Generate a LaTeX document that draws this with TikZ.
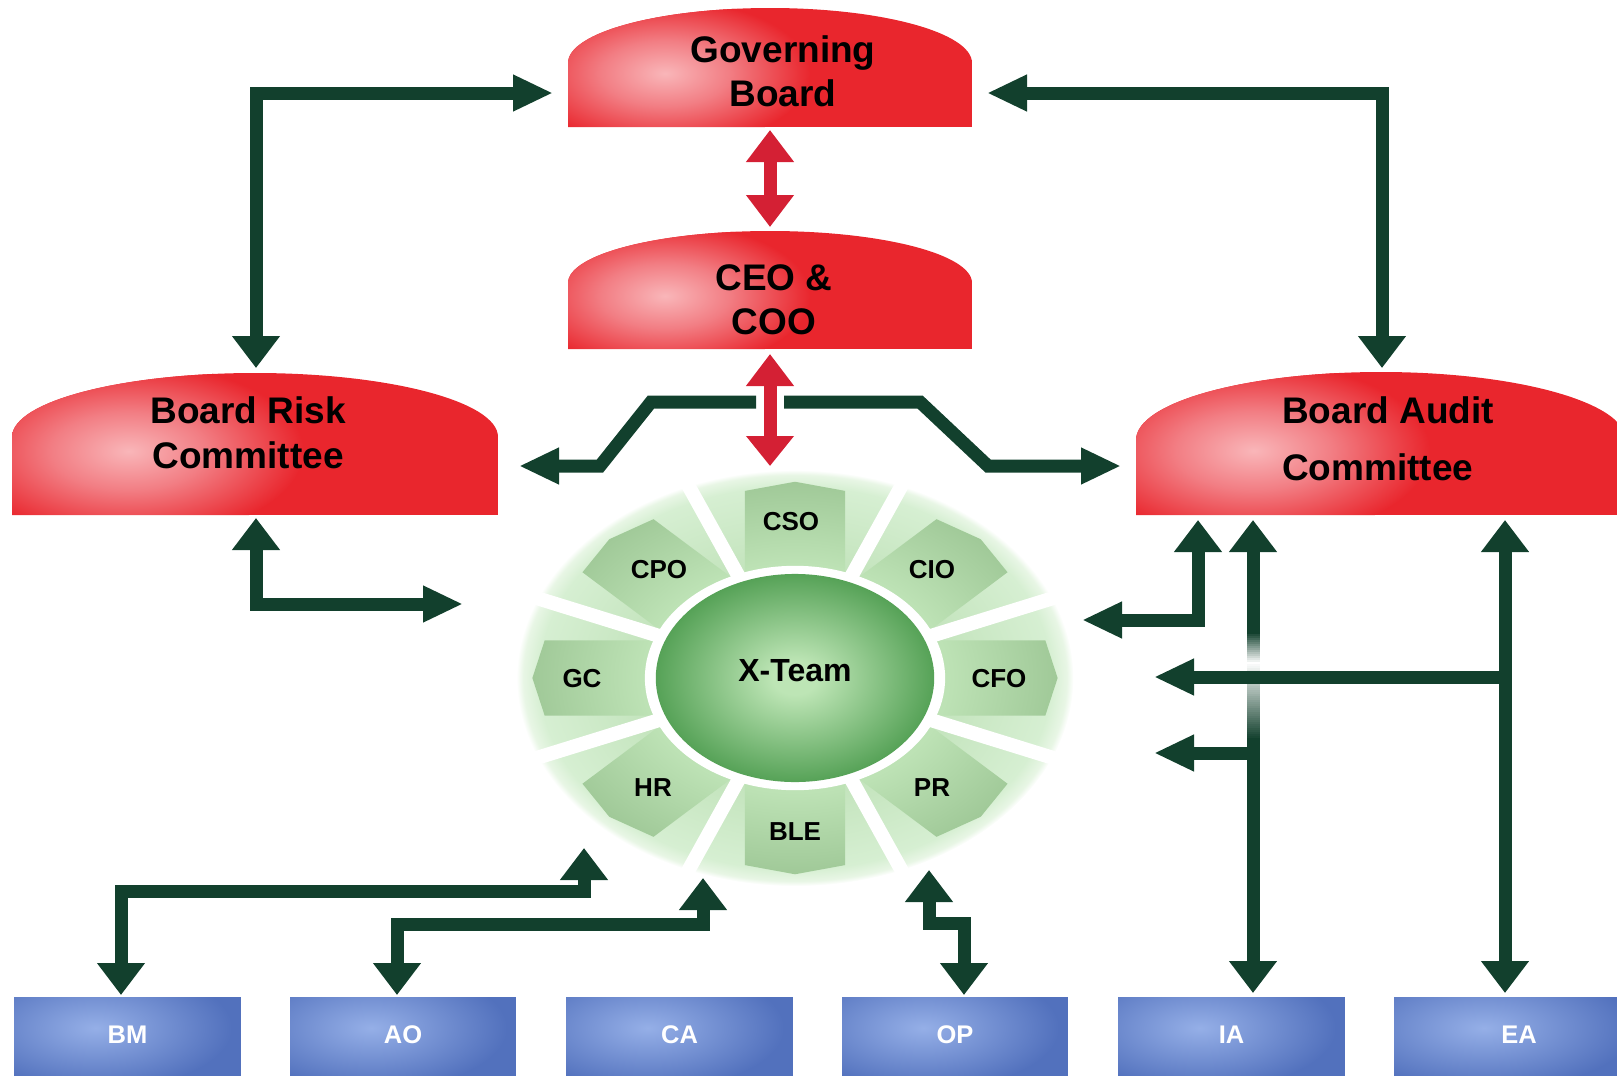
\documentclass[tikz,border=0pt]{standalone}
\usepackage{fontspec}
\setmainfont{Liberation Sans}
\usetikzlibrary{arrows.meta}

% palette
\definecolor{gdark}{HTML}{12402D}
\definecolor{arrowred}{HTML}{D42034}
\definecolor{domered}{HTML}{E9262D}
\definecolor{domemid}{HTML}{F27E84}
\definecolor{domepink}{HTML}{F9B6B9}
\definecolor{boxblue}{HTML}{5271BD}
\definecolor{boxlight}{HTML}{95AFE7}
\definecolor{ringA}{HTML}{C2E3BB}
\definecolor{ringB}{HTML}{D6EFD2}
\definecolor{ringC}{HTML}{E8F6E5}
\definecolor{tablight}{HTML}{BDE2B5}
\definecolor{tabdark}{HTML}{A0C998}
\definecolor{teamlight}{HTML}{BDE5B5}
\definecolor{teamdark}{HTML}{56A257}

\pgfdeclareradialshading{domeglow}{\pgfpoint{0bp}{0bp}}{color(0bp)=(domepink); color(11bp)=(domemid); color(25bp)=(domered); color(50bp)=(domered)}
\pgfdeclareradialshading{boxglow}{\pgfpoint{0bp}{0bp}}{color(0bp)=(boxlight); color(25bp)=(boxblue); color(50bp)=(boxblue)}
\pgfdeclareradialshading{ringglow}{\pgfpoint{0bp}{0bp}}{color(0bp)=(ringA); color(13bp)=(ringA); color(23bp)=(ringB); color(24.4bp)=(ringC); color(25bp)=(white); color(50bp)=(white)}
\pgfdeclareradialshading{tabglow}{\pgfpoint{0bp}{0bp}}{color(0bp)=(tablight); color(14bp)=(tablight); color(24bp)=(tabdark); color(50bp)=(tabdark)}
\pgfdeclareradialshading{teamglow}{\pgfpoint{0bp}{0bp}}{color(0bp)=(teamlight); color(4bp)=(teamlight); color(25bp)=(teamdark); color(50bp)=(teamdark)}

% red dome: left x, right x, top y, shoulder y, bottom y
\newcommand\redcap[5]{%
  \begin{scope}
    \clip (#1,#5) -- (#1,#4)
      .. controls (#1,{#4-0.5523*(#4-#3)}) and ({(#1+#2)/2-0.5523*(#2-#1)/2},#3) .. ({(#1+#2)/2},#3)
      .. controls ({(#1+#2)/2+0.5523*(#2-#1)/2},#3) and (#2,{#4-0.5523*(#4-#3)}) .. (#2,#4)
      -- (#2,#5) -- cycle;
    \fill[domered] (#1,#3) rectangle (#2,#5);
    \shade[shading=domeglow] ({#1+0.24*(#2-#1)},{#3+0.55*(#5-#3)}) ellipse ({0.36*(#2-#1)} and {0.62*(#5-#3)});
  \end{scope}}

% blue box: node name, left x, width, label
\newcommand\bluebox[4]{%
  \begin{scope}
    \clip (#2,997) rectangle ({#2+#3},1080);
    \fill[boxblue] (#2,997) rectangle ({#2+#3},1080);
    \shade[shading=boxglow] ({#2+0.36*#3},1028) ellipse ({0.6*#3} and 62);
  \end{scope}
  \node[boxtext] (#1) at ({#2+#3/2},1035) {#4};}

\tikzset{
  vt/.tip={Triangle[width=46pt,length=32pt]},
  ht/.tip={Triangle[width=34pt,length=40pt]},
  conn/.style={draw=gdark, line width=13pt, line join=miter},
  redconn/.style={draw=arrowred, line width=13pt, vt-vt},
  bigtext/.style={inner sep=0pt, font=\fontsize{37}{44}\selectfont\bfseries, align=center},
  ringtext/.style={inner sep=0pt, font=\fontsize{26}{30}\selectfont\bfseries},
  boxtext/.style={inner sep=0pt, text=white, font=\fontsize{25.5}{28}\selectfont\bfseries},
}

\begin{document}
\begin{tikzpicture}[x=1pt, y=-1pt]
\useasboundingbox (0,0) rectangle (1617,1076);
\clip (0,0) rectangle (1617,1076);

% ---- red committee shapes ----
\redcap{568}{972}{8}{63}{127}
\redcap{568}{972}{231}{283}{349}
\redcap{12}{498}{373}{437}{515}
\redcap{1136}{1626}{372}{440}{515}
\node[bigtext, anchor=north] (gb) at (783,35) {Governing\\Board};
\node[bigtext, anchor=north] (ceo) at (774,264) {CEO \&\\COO};
\node[bigtext, anchor=north, font=\fontsize{37}{45}\selectfont\bfseries] (brc) at (248,396) {Board Risk\\Committee};
\node[bigtext, anchor=north west, align=left, font=\fontsize{37}{57}\selectfont\bfseries] (bac) at (1282,396) {Board Audit\\Committee};

% ---- X-Team ring ----
\begin{scope}[shift={(795,678)}, xscale=273, yscale=-204]
  \shade[shading=ringglow] (0,0) circle (1.02);
  % eight pointed tabs, darker towards the rim
  \begin{scope}
    \clip \foreach \a in {90,45,...,-225} {
      ({0.5*cos(\a)-0.184*sin(\a)},{0.5*sin(\a)+0.184*cos(\a)})
      -- ({0.917*cos(\a)-0.184*sin(\a)},{0.917*sin(\a)+0.184*cos(\a)})
      -- ({0.962*cos(\a)},{0.962*sin(\a)})
      -- ({0.917*cos(\a)+0.184*sin(\a)},{0.917*sin(\a)-0.184*cos(\a)})
      -- ({0.5*cos(\a)+0.184*sin(\a)},{0.5*sin(\a)-0.184*cos(\a)}) -- cycle };
    \shade[shading=tabglow] (0,0) circle (1);
  \end{scope}
  \foreach \a in {22.5,67.5,...,337.5}
    \draw[white, line width=14pt] (0,0) -- (\a:1.04);
  \fill[white] (0,0) circle (0.55);
  \shade[shading=teamglow] (0,0) circle (0.51);
\end{scope}
\node[inner sep=0pt, font=\fontsize{32}{36}\selectfont\bfseries] (xteam) at (795,671) {X-Team};
\node[ringtext] (cso) at (791,522) {CSO};
\node[ringtext] (cio) at (932,570) {CIO};
\node[ringtext] (cfo) at (999,679) {CFO};
\node[ringtext] (pr)  at (932,788) {PR};
\node[ringtext] (ble) at (795,832) {BLE};
\node[ringtext] (hr)  at (653,788) {HR};
\node[ringtext] (gc)  at (582,679) {GC};
\node[ringtext] (cpo) at (659,570) {CPO};

% ---- bottom boxes ----
\bluebox{bm}{14}{227}{BM}
\bluebox{ao}{290}{226}{AO}
\bluebox{ca}{566}{227}{CA}
\bluebox{op}{842}{226}{OP}
\bluebox{ia}{1118}{227}{IA}
\bluebox{ea}{1394}{250}{EA}

% ---- connector end points ----
\coordinate (gb-w)   at (553,93);
\coordinate (gb-e)   at (987,93);
\coordinate (gb-s)   at (770,130);
\coordinate (ceo-n)  at (770,227);
\coordinate (ceo-s)  at (770,354);
\coordinate (xt-n)   at (770,466);
\coordinate (ceo-sw) at (756,402);
\coordinate (ceo-se) at (784,402);
\coordinate (brc-n)  at (256,368);
\coordinate (brc-s)  at (256,518);
\coordinate (bac-n)  at (1382,368);
\coordinate (bac-s1) at (1198,520);
\coordinate (bac-s2) at (1253,520);
\coordinate (bac-s3) at (1505,520);
\coordinate (xt-w)   at (463,604);
\coordinate (xt-e)   at (1082,620);
\coordinate (xt-e2)  at (1154,677);
\coordinate (xt-e3)  at (1154,753);
\coordinate (brc-in) at (519,466);
\coordinate (bac-in) at (1121,466);
\coordinate (xt-sw1) at (584,848);
\coordinate (xt-sw2) at (703,878);
\coordinate (xt-se)  at (929,870);
\coordinate (bm-n)   at (121,995);
\coordinate (ao-n)   at (397,995);
\coordinate (op-n)   at (964,995);
\coordinate (ia-n)   at (1253,993);
\coordinate (ea-n)   at (1505,993);

% ---- red links ----
\draw[redconn] (gb-s) -- (ceo-n);
\draw[redconn, vt-{Triangle[width=46pt,length=30pt]}] (ceo-s) -- (xt-n);

% ---- board links ----
\draw[conn, vt-ht] (brc-n) |- (gb-w);
\draw[conn, ht-vt] (gb-e) -| (bac-n);
\draw[conn, -ht] (ceo-sw) -- (651,402) -- (600,466) -- (brc-in);
\draw[conn, -ht] (ceo-se) -- (920,402) -- (988,466) -- (bac-in);
\draw[conn, vt-ht] (brc-s) |- (xt-w);
\draw[conn, vt-ht] (bac-s1) |- (xt-e);

% audit lines; the IA line fades out where the EA branch crosses it
\draw[conn, vt-vt] (bac-s2) -- (ia-n);
\foreach \i in {0,...,15}
  \fill[gdark!\the\numexpr 100-\i*100/15\relax!white] (1246.5,{632+2*\i}) rectangle (1259.5,{634.2+2*\i});
\foreach \i in {0,...,38}
  \fill[gdark!\the\numexpr \i*100/38\relax!white] (1246.5,{662+2*\i}) rectangle (1259.5,{664.2+2*\i});
\draw[conn, vt-vt] (bac-s3) -- (ea-n);
\draw[conn, -ht] (1505,677) -- (xt-e2);
\draw[conn, -ht] (1253,753) -- (xt-e3);

% ---- links to the bottom row ----
\draw[conn, vt-vt] (bm-n) |- (584,891) -- (xt-sw1);
\draw[conn, vt-vt] (ao-n) |- (703,924) -- (xt-sw2);
\draw[conn, vt-vt] (xt-se) -- (929,923) -- (964,923) -- (op-n);
\end{tikzpicture}
\end{document}
